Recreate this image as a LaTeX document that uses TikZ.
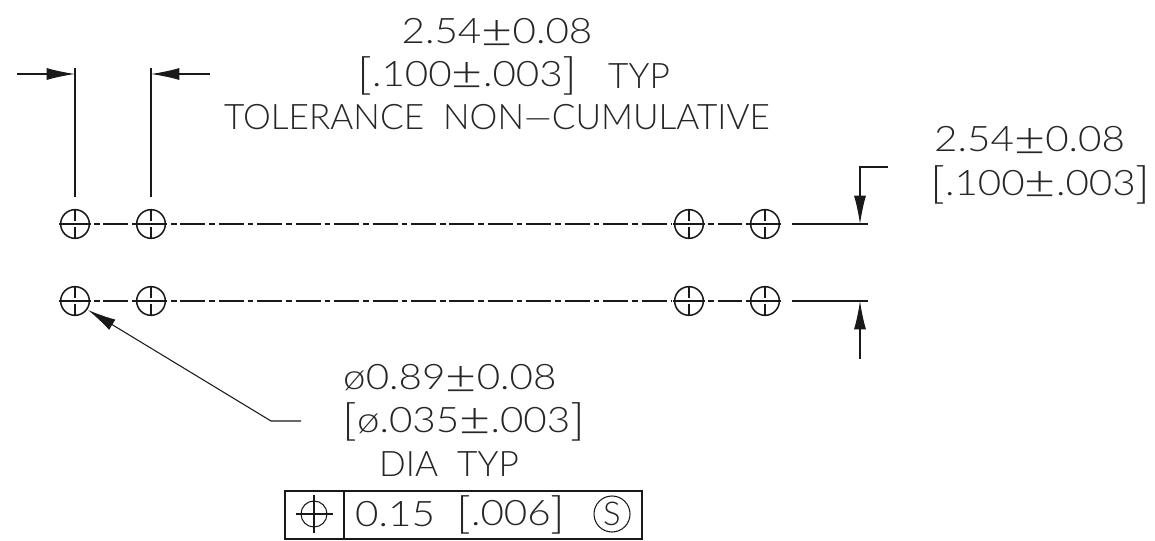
\documentclass[tikz,border=0pt]{standalone}
\usepackage{fontspec}
\setmainfont{Lato}[UprightFont=*-Light]
\newfontfamily\wide{Lato}[UprightFont=*-Light,FakeStretch=1.15]
\newcommand{\LB}{\raisebox{-0.09em}{\fontsize{37}{37}\selectfont[}}
\newcommand{\RB}{\raisebox{-0.09em}{\fontsize{37}{37}\selectfont]}}
\newcommand{\PM}{\raisebox{-0.1em}{\fontsize{40}{40}\selectfont ±}}
\usetikzlibrary{arrows.meta}
\tikzset{
  x=0.03cm,y=-0.03cm,
  ln/.style={line width=0.9pt,black!90},
  hole/.style={circle,draw,line width=1.3pt,black!90,minimum size=0.86cm,inner sep=0pt},
  lbl/.style={inner sep=0pt,text=black!85,font=\fontsize{30}{30}\selectfont},
  num/.style={inner sep=0pt,text=black!85,font=\wide\fontsize{30}{30}\selectfont},
  cl/.style={line width=0.9pt,black!90,dash pattern=on 4.7pt off 3.4pt on 21.3pt off 3.4pt},
  tip/.style={-{Latex[length=0.85cm,width=0.36cm]}}
}
\begin{document}
\begin{tikzpicture}
\useasboundingbox (0,0) rectangle (1155,541);
\fill[white] (0,0) rectangle (1155,541);
\foreach \n/\x/\y in {a/75/224,b/151/224,c/689/224,d/765/224,e/75/301,f/151/301,g/689/301,h/765/301}{
  \node[hole] (\n) at (\x,\y) {};
  \draw[ln] (\x-16,\y)--(\x+16,\y);
  \draw[ln] (\x,\y-15)--(\x,\y-3) (\x,\y-1)--(\x,\y+1) (\x,\y+3)--(\x,\y+15);
}
\foreach \y in {224,301}{
  \draw[cl] (94,\y)--(137,\y);
  \draw[cl] (171,\y)--(672,\y);
  \draw[cl] (708,\y)--(750,\y);
  \draw[ln] (792,\y)--(868,\y);
}
\draw[ln] (75,68)--(75,197) (151,68)--(151,197);
\draw[ln,tip] (17,74)--(75,74);
\draw[ln,tip] (210,74)--(151,74);
\draw[ln,tip] (888,167)--(860,167)--(860,224);
\draw[ln,tip] (860,359)--(860,301);
\draw[ln,tip] (301,421)--(271,421)--(88,310);
\node[num] at (497,33) {2.54\PM0.08};
\node[num,anchor=west] at (357,76) {\LB.100\PM.003\RB};
\node[lbl,anchor=west] at (608,76) {TYP};
\node[lbl] at (497,117) {TOLERANCE\ \ NON—CUMULATIVE};
\node[num,anchor=west] at (934,141) {2.54\PM0.08};
\node[num,anchor=west] at (930,185) {\LB.100\PM.003\RB};
\node[num,anchor=west] at (343,379) {ø0.89\PM0.08};
\node[num,anchor=west] at (342,422) {\LB ø.035\PM.003\RB};
\node[lbl] at (449,464) {DIA\ \ TYP};
\draw[ln] (285,491) rectangle (642,539);
\draw[ln] (344,491)--(344,539);
\node[circle,draw,ln,minimum size=1.08cm,inner sep=0pt] (s) at (612,514) {};
\node[lbl,font=\fontsize{28}{28}\selectfont] at (612,514) {S};
\node[circle,draw,ln,minimum size=0.78cm,inner sep=0pt] (p) at (314,514) {};
\draw[ln] (296,514)--(333,514) (314,495)--(314,533);
\node[num,anchor=west] at (355,514) {0.15};
\node[num,anchor=west] at (456,515) {\LB.006\RB};
\end{tikzpicture}
\end{document}
